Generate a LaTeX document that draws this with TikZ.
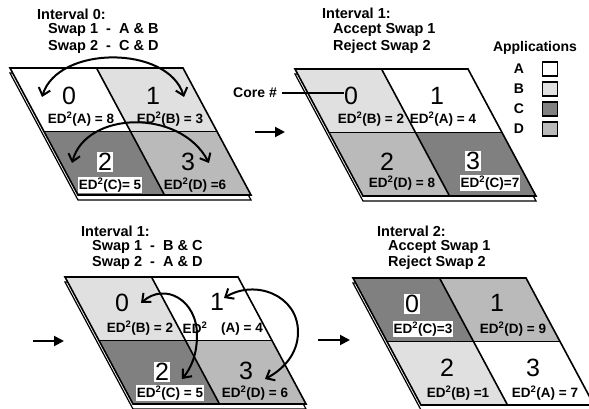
\documentclass[tikz,border=0pt]{standalone}
\usepackage{fontspec}
\setmainfont{Liberation Sans}
\usetikzlibrary{arrows.meta}
\definecolor{appA}{gray}{1}
\definecolor{appB}{gray}{0.88}
\definecolor{appC}{gray}{0.50}
\definecolor{appD}{gray}{0.73}
\newcommand{\drawpanel}[6]{%
  \begin{scope}[shift={(#1,#2)}]
    \draw[line width=1.2pt,fill=white] (0,5) -- (173,5) -- (241,132) -- (68,132) -- cycle;
    \fill[#3] (0,0) -- (86.5,0) -- (120.5,63.5) -- (34,63.5) -- cycle;
    \fill[#4] (86.5,0) -- (173,0) -- (207,63.5) -- (120.5,63.5) -- cycle;
    \fill[#5] (34,63.5) -- (120.5,63.5) -- (154.5,127) -- (68,127) -- cycle;
    \fill[#6] (120.5,63.5) -- (207,63.5) -- (241,127) -- (154.5,127) -- cycle;
    \draw[line width=1.6pt,line join=miter] (0,0) -- (173,0) -- (241,127) -- (68,127) -- cycle;
    \draw[line width=1.6pt] (34,63.5) -- (207,63.5);
    \draw[line width=1.6pt] (86.5,0) -- (154.5,127);
  \end{scope}}
\begin{document}
\begin{tikzpicture}[x=1pt,y=-1pt,
  title/.style={anchor=west,inner sep=0pt,font=\fontsize{14.5}{16}\selectfont\bfseries},
  core/.style={inner sep=0pt,font=\fontsize{25}{25}\selectfont},
  corec/.style={core,inner sep=1pt,fill=white},
  ed/.style={inner sep=0.5pt,font=\fontsize{13.5}{15}\selectfont\bfseries},
  edc/.style={ed,inner sep=1pt,fill=white},
  swaparrow/.style={line width=2pt,{Straight Barb[length=7pt,width=12pt]}-{Straight Barb[length=7pt,width=12pt]}},
  steparrow/.style={line width=2pt,-{Triangle[length=10pt,width=10pt]}},
  legbox/.style={draw,line width=1.2pt,minimum width=15pt,minimum height=14pt,inner sep=0pt},
  legl/.style={font=\fontsize{14}{15}\selectfont\bfseries,inner sep=0pt}]
\useasboundingbox (0,0) rectangle (589,409);
\fill[white] (0,0) rectangle (589,409);

% ---------- panel 1 ----------
\drawpanel{10}{68}{appA}{appB}{appC}{appD}
\node[title] (t1a) at (37,14) {Interval 0:};
\node[title] (t1b) at (48,30) {Swap 1\ \ -\ \ A \& B};
\node[title] (t1c) at (48,47) {Swap 2\ \ -\ \ C \& D};
\node[core] (p1n0) at (69,96) {0};
\node[core] (p1n1) at (153,96) {1};
\node[ed] (p1e0) at (81,119) {ED\textsuperscript{2}(A) = 8};
\node[ed] (p1e1) at (170,119) {ED\textsuperscript{2}(B) = 3};
\node[corec] (p1n2) at (105,162) {2};
\node[core] (p1n3) at (188,162) {3};
\node[edc] (p1e2) at (110,185) {ED\textsuperscript{2}(C)= 5};
\node[ed] (p1e3) at (195,185) {ED\textsuperscript{2}(D) =6};
\coordinate (s1a) at (42,97);
\coordinate (s1b) at (184,97);
\draw[swaparrow] (s1a) .. controls (58,45) and (168,45) .. (s1b);
\coordinate (s2a) at (72,163);
\coordinate (s2b) at (209,163);
\draw[swaparrow] (s2a) .. controls (86,111) and (180,108) .. (s2b);

% ---------- step arrow 1 ----------
\coordinate (a1s) at (255,132);
\coordinate (a1e) at (285,132);
\draw[steparrow] (a1s) -- (a1e);

% ---------- panel 2 ----------
\drawpanel{295}{69}{appB}{appA}{appD}{appC}
\node[title] (t2a) at (322,13) {Interval 1:};
\node[title] (t2b) at (333,30) {Accept Swap 1};
\node[title] (t2c) at (333,47) {Reject Swap 2};
\node[core] (p2n0) at (351,96) {0};
\node[core] (p2n1) at (437,96) {1};
\node[ed] (p2e0) at (371,119) {ED\textsuperscript{2}(B) = 2};
\node[ed] (p2e1) at (443,119) {ED\textsuperscript{2}(A) = 4};
\node[core] (p2n2) at (387,162) {2};
\node[corec] (p2n3) at (473,161) {3};
\node[ed] (p2e2) at (402,183) {ED\textsuperscript{2}(D) = 8};
\node[edc] (p2e3) at (490,183) {ED\textsuperscript{2}(C)=7};
\node[legl,anchor=east] (coreh) at (277,93) {Core \#};
\draw[line width=2pt] (coreh.east) ++(5,0) -- (coreh.east -| p2n0.west);

% legend
\node[legl] (legt) at (535,48) {Applications};
\node[legl] (lA) at (519,69) {A};
\node[legl] (lB) at (519,89) {B};
\node[legl] (lC) at (519,109) {C};
\node[legl] (lD) at (519,129) {D};
\node[legbox,fill=appA] (bA) at (550,69) {};
\node[legbox,fill=appB] (bB) at (550,89) {};
\node[legbox,fill=appC] (bC) at (550,109) {};
\node[legbox,fill=appD] (bD) at (550,129) {};

% ---------- panel 3 ----------
\drawpanel{65}{277}{appB}{appA}{appC}{appD}
\node[title] (t3a) at (81,231) {Interval 1:};
\node[title] (t3b) at (92,247) {Swap 1\ \ -\ \ B \& C};
\node[title] (t3c) at (92,263) {Swap 2\ \ -\ \ A \& D};
\node[core] (p3n0) at (122,303) {0};
\node[core] (p3n1) at (217,302) {1};
\node[ed] (p3e0) at (140,328) {ED\textsuperscript{2}(B) = 2};
\node[ed] (p3e1a) at (195,328) {ED\textsuperscript{2}};
\node[ed] (p3e1b) at (242,329) {(A) = 4};
\node[corec] (p3n2) at (162,372) {2};
\node[core] (p3n3) at (246,371) {3};
\node[edc] (p3e2) at (170,393) {ED\textsuperscript{2}(C) = 5};
\node[ed] (p3e3) at (255,393) {ED\textsuperscript{2}(D) = 6};
\coordinate (s3a) at (141,303);
\coordinate (s3b) at (182,379);
\draw[swaparrow] (s3a) .. controls (165,282) and (197,300) .. (197,335) .. controls (197,355) and (191,368) .. (s3b);
\coordinate (s4a) at (224,298);
\coordinate (s4b) at (265,379);
\draw[swaparrow] (s4a) .. controls (255,279) and (298,295) .. (298,332) .. controls (298,355) and (282,370) .. (s4b);

% ---------- step arrows 2,3 ----------
\coordinate (a2s) at (33,341);
\coordinate (a2e) at (64,341);
\draw[steparrow] (a2s) -- (a2e);
\coordinate (a3s) at (318,340);
\coordinate (a3e) at (350,340);
\draw[steparrow] (a3s) -- (a3e);

% ---------- panel 4 ----------
\drawpanel{353}{278}{appC}{appD}{appB}{appA}
\node[title] (t4a) at (377,231) {Interval 2:};
\node[title] (t4b) at (388,247) {Accept Swap 1};
\node[title] (t4c) at (388,263) {Reject Swap 2};
\node[corec] (p4n0) at (412,304) {0};
\node[core] (p4n1) at (497,303) {1};
\node[edc] (p4e0) at (423,329) {ED\textsuperscript{2}(C)=3};
\node[ed] (p4e1) at (513,329) {ED\textsuperscript{2}(D) = 9};
\node[core] (p4n2) at (447,368) {2};
\node[core] (p4n3) at (533,368) {3};
\node[ed] (p4e2) at (458,393) {ED\textsuperscript{2}(B) =1};
\node[ed] (p4e3) at (545,393) {ED\textsuperscript{2}(A) = 7};
\end{tikzpicture}
\end{document}
